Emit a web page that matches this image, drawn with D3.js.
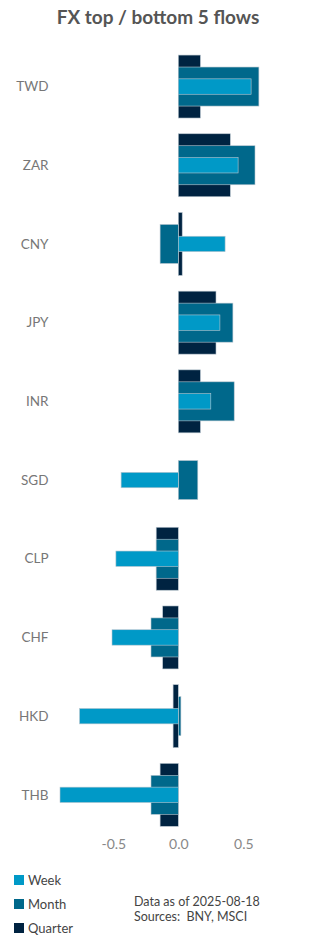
<!DOCTYPE html>
<html>
<head>
<meta charset="utf-8">
<script src="https://cdn.jsdelivr.net/npm/d3@7"></script>
<style>
  body { margin: 0; background: #fff; }
  svg { display: block; font-family: Lato, "Open Sans", sans-serif; }
</style>
</head>
<body>
<div id="chart"></div>
<script>
// chart data
const categories = ["TWD", "ZAR", "CNY", "JPY", "INR", "SGD", "CLP", "CHF", "HKD", "THB"]
const week    = [0.56, 0.46, 0.36, 0.32, 0.25, -0.44, -0.48, -0.51, -0.76, -0.91]
const month   = [0.62, 0.59, -0.14, 0.42, 0.43, 0.15, -0.17, -0.21, 0.02, -0.21]
const quarter = [0.17, 0.40, 0.03, 0.29, 0.17, 0.0, -0.17, -0.12, -0.04, -0.14]
const tickValues = [-0.5, 0, 0.5]
const seriesNames = ["Week", "Month", "Quarter"]
const colors = {Week: "#0099c7", Month: "#00688b", Quarter: "#002341"}

const width = 316, height = 948

const svg = d3.select("#chart").append("svg")
    .attr("width", width)
    .attr("height", height)

svg.append("text")
    .attr("x", width / 2)
    .attr("y", 24)
    .attr("text-anchor", "middle")
    .attr("font-size", 19)
    .attr("font-weight", 700)
    .attr("fill", "#555")
    .text("FX top / bottom 5 flows")

const x = d3.scaleLinear()
    .domain([-1, 1])
    .range([48.3, 308.3])

const y = d3.scaleBand()
    .domain(categories)
    .range([47.2, 834.2])
    .paddingInner(0.2)
    .paddingOuter(0.1)

const bw = y.bandwidth()

// widest first so the narrower bars sit on top
const layers = [
  {name: "Quarter", values: quarter, h: bw},
  {name: "Month", values: month, h: bw * 0.62},
  {name: "Week", values: week, h: bw * 0.245}
]

layers.forEach(layer => {
  svg.append("g")
      .attr("fill", colors[layer.name])
      .attr("stroke", "#b9c6cf")
      .attr("stroke-width", 0.6)
    .selectAll("rect")
    .data(categories.map((c, i) => ({c, v: layer.values[i]})))
    .join("rect")
      .attr("x", d => x(Math.min(0, d.v)))
      .attr("y", d => y(d.c) + (bw - layer.h) / 2)
      .attr("width", d => Math.abs(x(d.v) - x(0)))
      .attr("height", layer.h)
})

// category labels
svg.append("g")
    .attr("font-size", 13.5)
    .attr("fill", "#777")
    .attr("text-anchor", "end")
  .selectAll("text")
  .data(categories)
  .join("text")
    .attr("x", 48.5)
    .attr("y", d => y(d) + bw / 2)
    .attr("dy", "0.35em")
    .text(d => d)

// x axis
const xAxis = svg.append("g")
    .attr("transform", "translate(0,836)")
    .call(d3.axisBottom(x).tickValues(tickValues).tickSize(0).tickPadding(0)
      .tickFormat(d => d3.format(".1f")(d).replace("−", "-")))
xAxis.select(".domain").remove()
xAxis.selectAll("text")
    .attr("font-family", "Lato, sans-serif")
    .attr("font-size", 14)
    .attr("fill", "#888")
    .attr("dy", "0.9em")

// legend
const legend = svg.append("g")
  .selectAll("g")
  .data(seriesNames)
  .join("g")
    .attr("transform", (d, i) => `translate(14,${875 + i * 24})`)
legend.append("rect")
    .attr("width", 10)
    .attr("height", 10)
    .attr("fill", d => colors[d])
legend.append("text")
    .attr("x", 14)
    .attr("y", 10)
    .attr("font-size", 13)
    .attr("fill", "#444")
    .text(d => d)

// source note
svg.append("text")
    .attr("x", 134)
    .attr("y", 906)
    .attr("font-size", 12.5)
    .attr("fill", "#444")
    .text("Data as of 2025-08-18")
svg.append("text")
    .attr("x", 134)
    .attr("y", 921)
    .attr("font-size", 12.5)
    .attr("fill", "#444")
    .attr("xml:space", "preserve")
    .style("white-space", "pre")
    .text("Sources:  BNY, MSCI")
</script>
</body>
</html>
